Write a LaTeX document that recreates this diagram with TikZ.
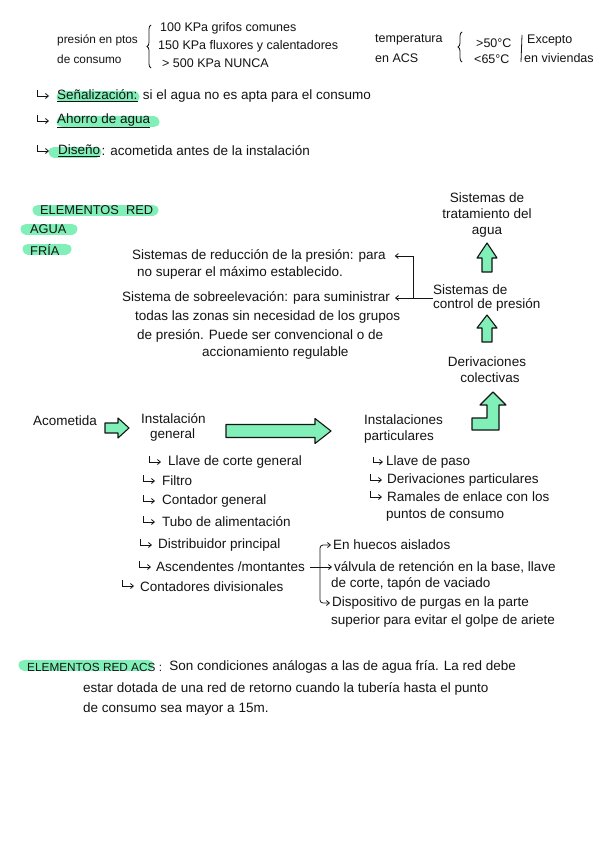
\documentclass[tikz,border=0pt]{standalone}
\usepackage{fontspec}
\setmainfont{Liberation Sans}
\usetikzlibrary{decorations.pathreplacing,arrows.meta,calc}
\definecolor{mint}{RGB}{128,240,184}
\definecolor{ink}{RGB}{20,20,20}
\newcommand\fa{\fontsize{13.5}{15}\selectfont}
\newcommand\fb{\fontsize{12.5}{14}\selectfont}
\newcommand\fh{\fontsize{12.8}{14}\selectfont}
\newcommand\fs{\fontsize{11.8}{14}\selectfont}
\newcommand\hfat[6]{\draw[fat] (#1,#3-#4) -- (#6,#3-#4) -- (#6,#3-#5) -- (#2,#3) -- (#6,#3+#5) -- (#6,#3+#4) -- (#1,#3+#4) -- cycle;}
\newcommand\vfat[6]{\draw[fat] (#1-#4,#3) -- (#1-#4,#6) -- (#1-#5,#6) -- (#1,#2) -- (#1+#5,#6) -- (#1+#4,#6) -- (#1+#4,#3) -- cycle;}
\tikzset{
  t/.style={anchor=west,inner sep=0pt,font=\fa,text=ink},
  tc/.style={anchor=center,inner sep=0pt,font=\fa,text=ink},
  hl/.style={line width=11pt,line cap=round,mint},
  fat/.style={fill=mint,draw=ink,line width=1.1pt,line join=round},
  conn/.style={draw=ink,line width=0.8pt},
  tip/.style={-{Straight Barb[length=3pt,width=5pt]}},
  brc/.style={draw=ink,line width=0.8pt,decorate,decoration={brace,amplitude=4pt}},
  hk/.pic={\draw[conn,tip] (0,-6) -- (0,0) -- (12,0);},
  hks/.pic={\draw[conn,tip] (0,-5) -- (0,0) -- (10,0);}
}
\begin{document}
\begin{tikzpicture}[x=1pt,y=-1pt]
\useasboundingbox (0,0) rectangle (600,848);
\fill[white] (0,0) rectangle (600,848);
% highlights
\draw[hl] (62,97) -- (134,97);
\draw[hl] (62,122) -- (154,122);
\draw[hl] (54,152) -- (96,152);
\draw[hl] (38,210) -- (153,210);
\draw[hl] (26,229) -- (72,229);
\draw[hl] (28,249) -- (66,249);
\draw[hl] (24,665) -- (148,665);
% top
\node[t,font=\fs] (pres1) at (57,40) {presión en ptos};
\node[t,font=\fs] (pres2) at (57,59) {de consumo};
\draw[brc] (151,68) -- (151,25);
\node[t,font=\fb] (p1) at (160,28) {100 KPa grifos comunes};
\node[t,font=\fb] (p2) at (158,46) {150 KPa fluxores y calentadores};
\node[t,font=\fb] (p3) at (162,63) {> 500 KPa NUNCA};
\node[t,font=\fb] (temp1) at (375,40) {temperatura};
\node[t,font=\fb] (temp2) at (375,58) {en ACS};
\draw[brc] (462,62) -- (462,32);
\node[t,font=\fb] (tA) at (476,43) {>50°C};
\node[t,font=\fb] (tB) at (474,59) {<65°C};
\draw[conn] (522,35) -- (521,62);
\node[t,font=\fb] (ex1) at (527,40) {Excepto};
\node[t,font=\fb] (ex2) at (524,58) {en viviendas};
% notes
\pic at (37,96) {hk};
\node[t] (senk) at (57,96) {\underline{Señalización:}};
\node[t] (sent) at ($(senk.east)+(5,0)$) {si el agua no es apta para el consumo};
\pic at (37,121) {hk};
\node[t] (aho) at (57,121) {\underline{Ahorro de agua}};
\pic at (37,151) {hk};
\node[t] (disk) at (58,151) {\underline{Diseño}};
\node[t] (dist) at ($(disk.east)+(1,0)$) {: acometida antes de la instalación};
% headings
\node[t,font=\fh] (el) at (40,210) {ELEMENTOS\ \ RED};
\node[t,font=\fh] (ag) at (30,229) {AGUA};
\node[t,font=\fh] (fr) at (30,250) {FRÍA};
% systems
\node[t] (sred1) at (132,256) {Sistemas de reducción de la presión: para};
\node[t] (sred2) at (137,273) {no superar el máximo establecido.};
\node[t] (ssob1) at (122,298) {Sistema de sobreelevación: para suministrar};
\node[t] (ssob2) at (135,317) {todas las zonas sin necesidad de los grupos};
\node[t] (ssob3) at (137,336) {de presión. Puede ser convencional o de};
\node[t] (ssob4) at (202,353) {accionamiento regulable};
% right column
\node[tc] (tra1) at (487,198) {Sistemas de};
\node[tc] (tra2) at (487,214) {tratamiento del};
\node[tc] (tra3) at (487,232) {agua};
\node[t] (ctrl1) at (433,290) {Sistemas de};
\node[t] (ctrl2) at (433,305) {control de presión};
\node[tc] (der1) at (487,362) {Derivaciones};
\node[tc] (der2) at (490,378) {colectivas};
\vfat{487}{243}{272}{5}{10}{258}
\vfat{487}{315}{342}{5}{10}{328}
\draw[fat] (472,418) -- (487,418) -- (487,405) -- (480,405) -- (493,392) -- (506,405) -- (499,405) -- (499,430) -- (472,430) -- cycle;
% bracket
\coordinate (bk) at (413,298);
\draw[conn,tip] (bk) |- ($(sred1.east)+(9,0)$);
\draw[conn,tip] (bk) -- ($(ssob1.east)+(5,0)$);
\draw[conn] (bk) -- (bk -| ctrl1.west);
% main row
\node[t] (acom) at (33,421) {Acometida};
\node[t] (ig1) at (141,419) {Instalación};
\node[t] (ig2) at (150,435) {general};
\node[t] (ip1) at (364,420) {Instalaciones};
\node[t] (ip2) at (364,437) {particulares};
\hfat{105}{129}{428}{5}{10}{118}
\hfat{226}{331}{431}{6.5}{12.5}{315}
% list general
\pic at (149,462) {hk};
\node[t] (l1) at (168,462) {Llave de corte general};
\pic at (143,481) {hk};
\node[t] (l2) at (162,481) {Filtro};
\pic at (143,501) {hk};
\node[t] (l3) at (162,501) {Contador general};
\pic at (143,522) {hk};
\node[t] (l4) at (162,522) {Tubo de alimentación};
\pic at (140,545) {hk};
\node[t] (l5) at (158,545) {Distribuidor principal};
\pic at (139,567) {hk};
\node[t] (asc) at (156,567) {Ascendentes /montantes};
\pic at (122,586) {hk};
\node[t] (l7) at (140,587) {Contadores divisionales};
% list particulares
\pic at (373,462) {hks};
\node[t] (m1) at (386,462) {Llave de paso};
\pic at (370,480) {hk};
\node[t] (m2) at (387,480) {Derivaciones particulares};
\pic at (370,497) {hk};
\node[t] (m3) at (387,497) {Ramales de enlace con los};
\node[t] (m4) at (386,515) {puntos de consumo};
% branches
\node[t] (hue) at (333,545) {En huecos aislados};
\node[t] (val1) at (334,567) {válvula de retención en la base, llave};
\node[t] (val2) at (331,584) {de corte, tapón de vaciado};
\node[t] (dis1) at (332,603) {Dispositivo de purgas en la parte};
\node[t] (dis2) at (331,621) {superior para evitar el golpe de ariete};
\coordinate (br) at (320,567);
\draw[conn,tip] ($(asc.east)+(5,0)$) -- ($(val1.west)+(-2,0)$);
\draw[conn,tip,rounded corners=3pt] (br) |- ($(hue.west)+(-2,0)$);
\draw[conn,tip,rounded corners=3pt] (br) |- ($(dis1.west)+(-2,0)$);
% ACS
\node[t,font=\fs] (acs) at (27,667) {ELEMENTOS RED ACS :};
\node[t] (acs1) at ($(acs.east)+(7,0)$) {Son condiciones análogas a las de agua fría. La red debe};
\node[t] (acs2) at (83,689) {estar dotada de una red de retorno cuando la tubería hasta el punto};
\node[t] (acs3) at (83,709) {de consumo sea mayor a 15m.};
\end{tikzpicture}
\end{document}
